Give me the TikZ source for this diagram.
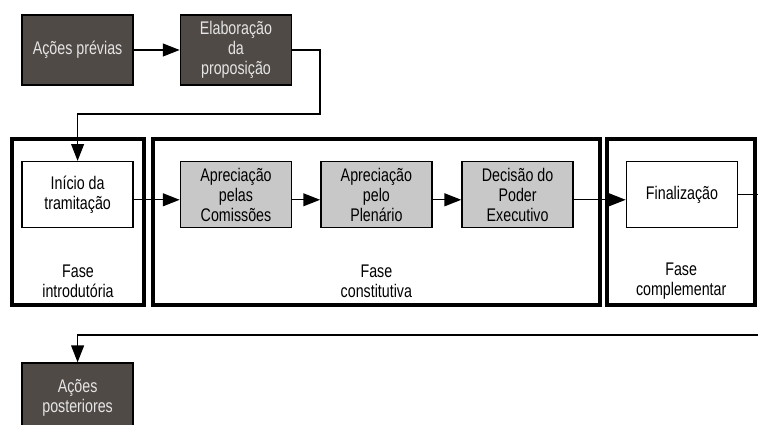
\documentclass[tikz,border=0pt]{standalone}
\usepackage{fontspec}
\setmainfont{Liberation Sans}[FakeStretch=0.78]
\usetikzlibrary{arrows.meta}
\definecolor{escuro}{RGB}{80,74,71}
\definecolor{claro}{RGB}{200,200,200}
\tikzset{
  caixa/.style={draw,line width=1pt,minimum width=2.78cm,minimum height=1.65cm,align=center,inner sep=1pt},
  acao/.style={caixa,fill=escuro,text=white!90!black},
  etapa/.style={caixa,fill=claro},
  fase/.style={draw,line width=2.5pt},
  seta/.style={line width=1pt,-{Triangle[length=0.42cm,width=0.32cm]}}
}
\begin{document}
\begin{tikzpicture}[font=\fontsize{13}{14.2}\selectfont]
            \clip (0,0) rectangle (18.95,10.625);
            % fases
            \draw [fase] (0.3,3.0) rectangle (3.6,7.15);
            \draw [fase] (3.825,3.0) rectangle (15.0,7.15);
            \draw [fase] (15.175,3.0) rectangle (18.88,7.15);
            \node [align=center] (fintro) at (1.95,3.6) {Fase\\introdutória};
            \node [align=center] (fconst) at (9.41,3.6) {Fase\\constitutiva};
            \node [align=center] (fcompl) at (17.03,3.6) {Fase\\complementar};
            % acoes
            \node [acao,minimum height=1.75cm] (previas) at (1.94,9.375) {Ações prévias};
            \node [acao,minimum height=1.75cm] (elab) at (5.9,9.375) {Elaboração\\da\\proposição};
            \node [caixa] (inicio) at (1.94,5.76) {Início da\\tramitação};
            \node [etapa] (comissoes) at (5.9,5.76) {Apreciação\\pelas\\Comissões};
            \node [etapa] (plenario) at (9.41,5.76) {Apreciação\\pelo\\Plenário};
            \node [etapa] (decisao) at (12.94,5.76) {Decisão do\\Poder\\Executivo};
            \node [caixa] (final) at (17.05,5.76) {Finalização};
            \node [acao,minimum height=1.75cm] (posteriores) at (1.94,0.675) {Ações\\posteriores};
            \coordinate (volta) at (8.0,7.775);
            \coordinate (saida) at (18.95,5.76);
            \coordinate (entrada) at (18.95,2.25);
            % ligacoes
            \draw [seta] (previas) -- (elab);
            \draw [seta] (elab.east) -| (volta) -| (inicio.north);
            \draw [seta] ([yshift=-1.3mm]inicio.east) -- ([yshift=-1.3mm]comissoes.west);
            \draw [seta] ([yshift=-1.3mm]comissoes.east) -- ([yshift=-1.3mm]plenario.west);
            \draw [seta] ([yshift=-1.3mm]plenario.east) -- ([yshift=-1.3mm]decisao.west);
            \draw [seta] ([yshift=-1.3mm]decisao.east) -- ([yshift=-1.3mm]final.west);
            \draw [line width=1pt] (final) -- (saida);
            \draw [seta] (entrada) -| (posteriores.north);
        \end{tikzpicture}
\end{document}
